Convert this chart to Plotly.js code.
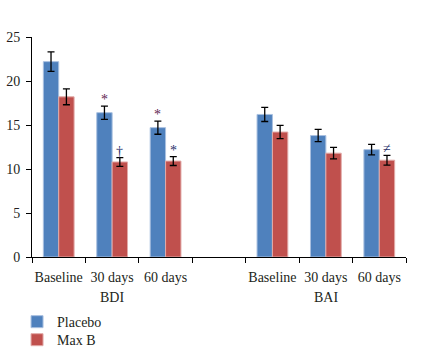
<!DOCTYPE html>
<html>
<head>
<meta charset="utf-8">
<script src="https://cdn.plot.ly/plotly-3.0.1.min.js"></script>
<style>html,body{margin:0;padding:0;background:#fff;}#chart{width:444px;height:350px;}</style>
</head>
<body>
<div id="chart"></div>
<script>
// ---- data ----
const categories = ["Baseline", "30 days", "60 days"];
const groups = ["BDI", "BAI"];
const seriesNames = ["Placebo", "Max B"];
// values per group, in category order
const placeboBDI = [22.2, 16.4, 14.7];
const placeboBAI = [16.2, 13.8, 12.2];
const maxbBDI = [18.2, 10.8, 10.9];
const maxbBAI = [14.2, 11.8, 11.0];
const placeboErrBDI = [1.1, 0.75, 0.75];
const placeboErrBAI = [0.8, 0.7, 0.6];
const maxbErrBDI = [0.9, 0.5, 0.5];
const maxbErrBAI = [0.75, 0.65, 0.55];
// significance markers: [group index, category index, series index, symbol]
const markers = [
  [0, 1, 0, "*"],
  [0, 2, 0, "*"],
  [0, 1, 1, "\u2020"],
  [0, 2, 1, "*"],
  [1, 2, 1, "\u2260"]
];

// ---- build ----
const slotsPerGroup = categories.length + 1; // one empty slot between groups
const xs = [], tickText = [];
groups.forEach((g, gi) => categories.forEach((c, ci) => { xs.push(gi * slotsPerGroup + ci); tickText.push(c); }));
const placebo = placeboBDI.concat(placeboBAI);
const maxb = maxbBDI.concat(maxbBAI);
const placeboErr = placeboErrBDI.concat(placeboErrBAI);
const maxbErr = maxbErrBDI.concat(maxbErrBAI);

const colors = ["#4F81BD", "#C0504D"];
const edge = ["#a9c0e0", "#e2aaa8"];
const symColors = ["#5e2450", "#27306b"];
const textColor = "#231f20";
const bargap = 0.424;
const font = "Liberation Serif, Times New Roman, serif";

function barTrace(name, y, err, i, legendId) {
  return {
    type: "bar", name: name, x: xs, y: y, legend: legendId,
    marker: {color: colors[i], line: {color: edge[i], width: 1}},
    error_y: {type: "data", array: err, visible: true, color: "#000", thickness: 1.3, width: 3.5},
    hoverinfo: "skip"
  };
}
const data = [barTrace(seriesNames[0], placebo, placeboErr, 0, "legend"),
              barTrace(seriesNames[1], maxb, maxbErr, 1, "legend2")];

const vals = [placebo, maxb], errs = [placeboErr, maxbErr];
const half = (1 - bargap) / 4;
const annotations = markers.map(([gi, ci, si, sym]) => {
  const idx = gi * categories.length + ci;
  return {
    x: xs[idx] + (si === 0 ? -half : half), xref: "x",
    y: vals[si][idx] + errs[si][idx] - 0.35, yref: "y", yanchor: "bottom",
    text: sym, showarrow: false,
    font: {family: font, size: 14, color: symColors[si]}
  };
});
groups.forEach((g, gi) => {
  annotations.push({
    x: gi * slotsPerGroup + (categories.length - 1) / 2, xref: "x",
    y: -0.186, yref: "paper", yanchor: "middle",
    text: g, showarrow: false, font: {family: font, size: 14, color: textColor}
  });
});

const legendBase = {x: -0.04, xanchor: "left", yanchor: "top", orientation: "v",
  font: {family: font, size: 14, color: textColor}, bgcolor: "rgba(0,0,0,0)"};

const layout = {
  width: 444, height: 350,
  margin: {l: 32, r: 38, t: 37, b: 93, autoexpand: false},
  paper_bgcolor: "#fff", plot_bgcolor: "#fff",
  barmode: "group", bargap: bargap, bargroupgap: 0,
  font: {family: font, size: 14, color: textColor},
  showlegend: true,
  legend: Object.assign({}, legendBase, {y: -0.223}),
  legend2: Object.assign({}, legendBase, {y: -0.305}),
  xaxis: {
    range: [-0.5, xs[xs.length - 1] + 0.5],
    tickmode: "array", tickvals: xs, ticktext: tickText, ticks: "", ticklabelstandoff: 7,
    tickangle: 0,
    minor: {ticks: "outside", tick0: 0.5, dtick: 1, ticklen: 5, tickcolor: "#000", tickwidth: 1},
    showline: true, linecolor: "#000", linewidth: 1,
    showgrid: false, zeroline: false, fixedrange: true, automargin: false,
    tickfont: {family: font, size: 14, color: textColor}
  },
  yaxis: {
    range: [0, 25], dtick: 5, tick0: 0, ticks: "outside", ticklen: 5, tickcolor: "#000",
    ticklabelstandoff: 3,
    showline: true, linecolor: "#000", linewidth: 1,
    showgrid: false, zeroline: false, fixedrange: true, automargin: false,
    tickfont: {family: font, size: 14, color: textColor}
  },
  annotations: annotations
};

Plotly.newPlot("chart", data, layout, {displayModeBar: false, staticPlot: true});
</script>
</body>
</html>
